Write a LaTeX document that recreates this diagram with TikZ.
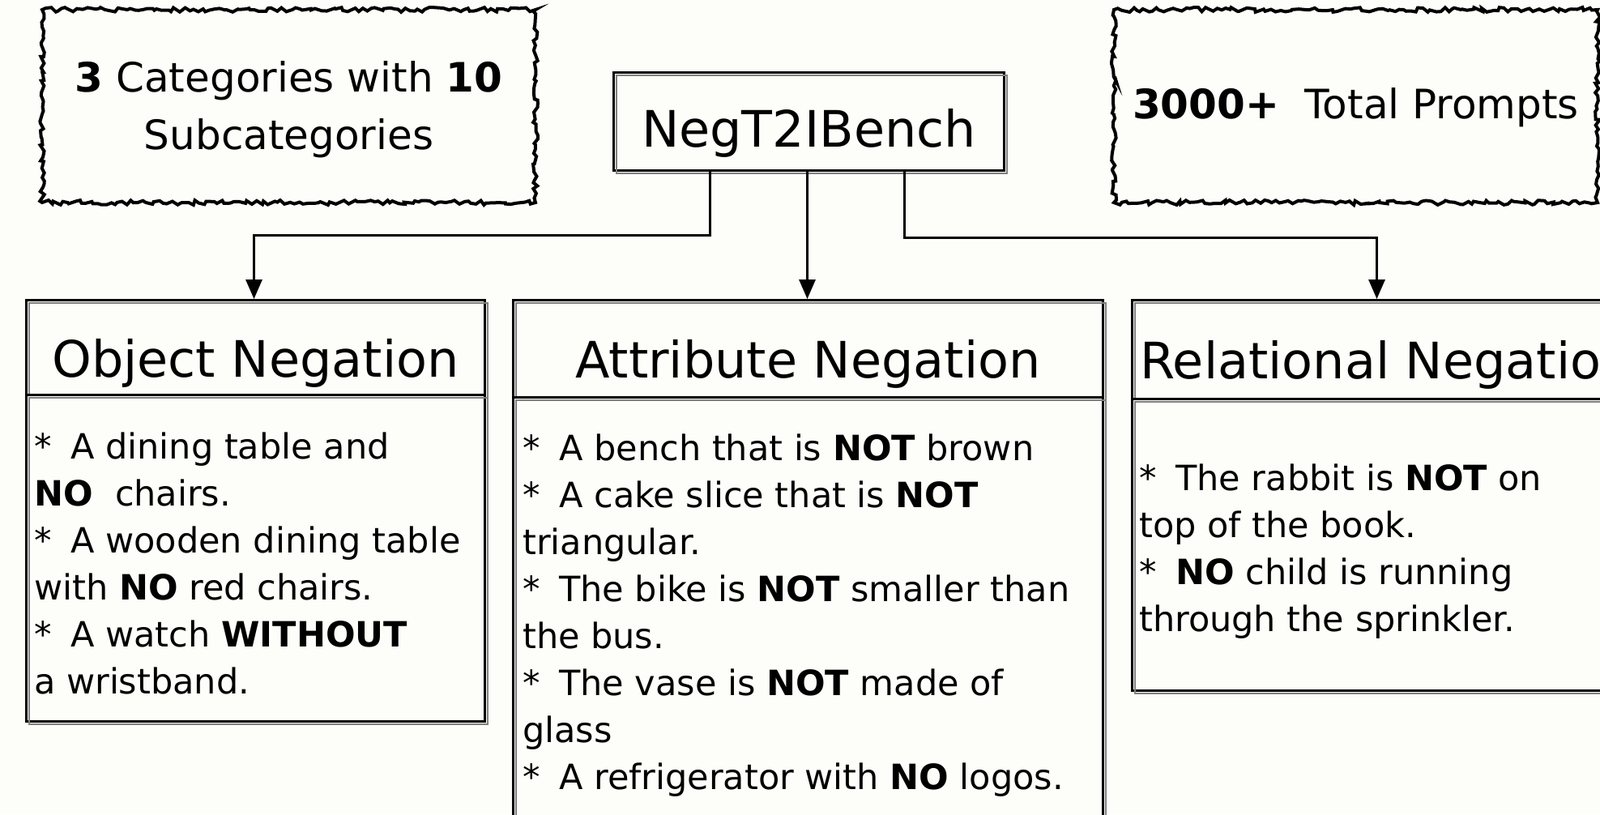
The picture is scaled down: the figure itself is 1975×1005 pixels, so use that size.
\documentclass[tikz,border=0pt]{standalone}
\usepackage{fontspec}
\setmainfont{DejaVu Sans}
\usetikzlibrary{arrows.meta,decorations.pathmorphing,calc}
\definecolor{paper}{RGB}{253,253,249}
\begin{document}
\begin{tikzpicture}[x=1pt,y=-1pt,
  sketch/.style={postaction={draw=black!50, line width=2pt, transform canvas={shift={(3pt,-3pt)}}}},
  box/.style={draw=black, line width=3pt, rectangle, inner sep=0pt, anchor=north west, fill=paper, sketch},
  wavy/.style={draw=black, line width=4pt, rectangle, anchor=north west, fill=paper,
    decorate, decoration={random steps, segment length=5pt, amplitude=3pt}},
  conn/.style={draw=black, line width=3pt, -{Triangle[width=20pt,length=24pt]}},
  titlefont/.style={font=\fontsize{62}{74}\selectfont, text height=63pt, text depth=0pt},
  headfont/.style={font=\fontsize{62}{74}\selectfont, text height=72pt, text depth=0pt},
  infofont/.style={font=\fontsize{50}{71}\selectfont},
  bodyfont/.style={font=\fontsize{43}{58}\selectfont},
  bodytext/.style={bodyfont, anchor=north west, inner sep=0pt, align=left}
]
\fill[paper] (0,0) rectangle (1975,1005);
\clip (0,0) rectangle (1975,1005);

% info boxes
\node[wavy, minimum width=609pt, minimum height=238pt] (cats) at (50,10) {};
\node[infofont, align=center] (catst) at ($(cats.center)+(0,4)$)
  {\textbf{3} Categories with \textbf{10}\\Subcategories};
\node[wavy, minimum width=597pt, minimum height=238pt] (total) at (1373,10) {};
\node[infofont] (totalt) at ($(total.center)+(0,2)$) {\textbf{3000+}\ \ Total Prompts};

% root
\node[box, minimum width=482pt, minimum height=121pt, titlefont] (neg) at (756,88) {NegT2IBench};

% category headers
\node[box, minimum width=566pt, minimum height=117pt, headfont] (objh) at (31,369) {Object Negation};
\node[box, minimum width=728pt, minimum height=120pt, headfont] (attrh) at (632,369) {Attribute Negation};
\node[box, inner xsep=10pt, minimum height=122pt, headfont] (relh) at (1396,369) {Relational Negation};

% category bodies
\node[box, minimum width=566pt, minimum height=403pt] (objb) at (31,486) {};
\node[box, minimum width=728pt, minimum height=560pt] (attrb) at (632,489) {};
\node[box, minimum width=640pt, minimum height=360pt] (relb) at (1396,491) {};

% body texts
\node[bodytext] (objt) at (42,534) {%
*\hspace{0.55em}A dining table and\\
\textbf{NO}\ \ chairs.\\
*\hspace{0.55em}A wooden dining table\\
with \textbf{NO} red chairs.\\
*\hspace{0.55em}A watch \textbf{WITHOUT}\\
a wristband.};

\node[bodytext] (attrt) at (645,536) {%
*\hspace{0.55em}A bench that is \textbf{NOT} brown\\
*\hspace{0.55em}A cake slice that is \textbf{NOT}\\
triangular.\\
*\hspace{0.55em}The bike is \textbf{NOT} smaller than\\
the bus.\\
*\hspace{0.55em}The vase is \textbf{NOT} made of\\
glass\\
*\hspace{0.55em}A refrigerator with \textbf{NO} logos.};

\node[bodytext] (relt) at (1406,573) {%
*\hspace{0.55em}The rabbit is \textbf{NOT} on\\
top of the book.\\
*\hspace{0.55em}\textbf{NO} child is running\\
through the sprinkler.};

% connectors
\draw[conn] ([xshift=-122pt]neg.south) -- ++(0,78) -| ([xshift=-2pt]objh.north);
\draw[conn] ([xshift=-2pt]neg.south) -- ([xshift=-2pt]neg.south |- attrh.north);
\draw[conn] ([xshift=118pt]neg.south) -- ++(0,81) -| ([xshift=-12pt]relh.north);
\end{tikzpicture}
\end{document}
